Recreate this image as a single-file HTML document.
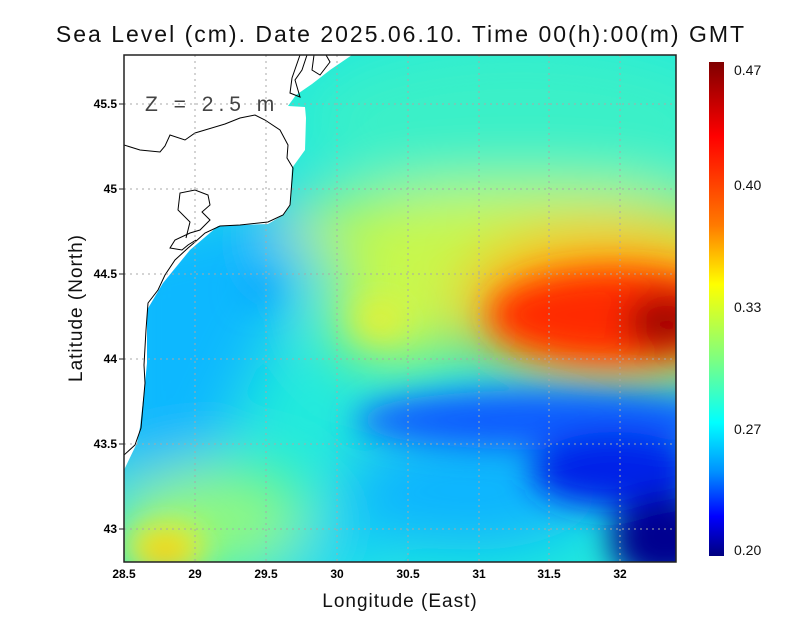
<!DOCTYPE html>
<html><head><meta charset="utf-8"><style>
html,body{margin:0;padding:0;background:#fff;}
svg{display:block;font-family:"Liberation Sans",sans-serif;}
</style></head><body>
<svg width="800" height="618" viewBox="0 0 800 618" xmlns="http://www.w3.org/2000/svg">
<defs>
<clipPath id="pc"><rect x="124" y="55" width="552" height="507"/></clipPath>
<filter id="b1" x="-50%" y="-50%" width="200%" height="200%"><feGaussianBlur stdDeviation="30"/></filter>
<filter id="b2" x="-50%" y="-50%" width="200%" height="200%"><feGaussianBlur stdDeviation="16"/></filter>
<linearGradient id="cb" x1="0" y1="0" x2="0" y2="1">
<stop offset="0" stop-color="#7f0000"/>
<stop offset="0.15" stop-color="#ff0000"/>
<stop offset="0.33" stop-color="#ff7a00"/>
<stop offset="0.45" stop-color="#ffff00"/>
<stop offset="0.6" stop-color="#7fff7f"/>
<stop offset="0.73" stop-color="#00ffff"/>
<stop offset="0.83" stop-color="#0090ff"/>
<stop offset="0.92" stop-color="#0000ff"/>
<stop offset="1" stop-color="#00007f"/>
</linearGradient>
</defs>
<text x="401" y="42" text-anchor="middle" font-size="23" letter-spacing="2" fill="#111">Sea Level (cm). Date 2025.06.10. Time 00(h):00(m) GMT</text>
<g clip-path="url(#pc)">
<rect x="124" y="55" width="552" height="507" fill="#22eadc"/>
<g filter="url(#b1)">
<path d="M100,240 L300,190 L330,240 L270,340 L210,470 L100,540 Z" fill="#10b8ff"/>
<ellipse cx="520" cy="120" rx="220" ry="80" fill="#3af0c8"/>
<ellipse cx="520" cy="230" rx="240" ry="45" fill="#c8f848"/>
<ellipse cx="400" cy="310" rx="75" ry="55" fill="#c8f850"/>
<ellipse cx="610" cy="305" rx="150" ry="78" fill="#ffb000"/>
<ellipse cx="470" cy="490" rx="130" ry="60" fill="#10b4ff"/>
<ellipse cx="300" cy="550" rx="90" ry="30" fill="#18d0f8"/>
<ellipse cx="210" cy="520" rx="100" ry="55" fill="#90f880"/>
</g>
<g filter="url(#b2)">
<ellipse cx="615" cy="315" rx="125" ry="45" fill="#ff2a00"/>
<ellipse cx="665" cy="322" rx="40" ry="28" fill="#a00000"/>
<ellipse cx="545" cy="420" rx="190" ry="30" fill="#0a5cff"/>
<ellipse cx="615" cy="470" rx="85" ry="38" fill="#0024e8"/>
<ellipse cx="665" cy="540" rx="55" ry="45" fill="#000090"/>
<ellipse cx="165" cy="548" rx="40" ry="25" fill="#f8f020"/>
<ellipse cx="165" cy="553" rx="20" ry="12" fill="#f8b000"/>
<ellipse cx="380" cy="320" rx="25" ry="18" fill="#e8f030"/>
<ellipse cx="258" cy="290" rx="15" ry="12" fill="#0a9cff"/>
</g>
<path d="M124,55 L352,55 L330,70 L312,84 L296,95 L288,106 L305,107 L306,118 L305,150 L292,168 L290,205 L283,215 L268,224 L218,226 L190,250 L163,283 L147,310 L147,363 L145,383 L140,427 L137,443 L124,470 Z" fill="#fff"/>
<g fill="none" stroke="#000" stroke-width="1">
<path d="M124,145 L140,150 L160,152 L165,146 L170,135 L185,140 L195,133 L225,124 L240,118 L255,115 L265,120 L280,130 L288,145 L287,158 L293,168 L290,205 L283,215 L268,222 L240,225 L220,226 L205,233 L195,242 L188,248 L175,260 L165,275 L158,290 L148,303 L146,330 L144,365 L145,383 L141,428 L135,445 L124,455"/>
<path d="M186,238 L190,222 L178,210 L180,193 L195,190 L208,195 L210,205 L202,212 L210,220 L200,230 L190,233 L175,240 L170,248 L182,250 L188,245 L196,240"/>
<path d="M300,55 L292,78 L290,93 L300,97 L295,80 L302,70 L307,55"/>
<path d="M314,55 L312,70 L320,75 L330,62 L326,55"/>
</g>
</g>
<g stroke="#a8a8a8" stroke-width="1" stroke-dasharray="2,4">
<line x1="195" y1="55" x2="195" y2="562"/><line x1="266" y1="55" x2="266" y2="562"/>
<line x1="337" y1="55" x2="337" y2="562"/><line x1="408" y1="55" x2="408" y2="562"/>
<line x1="479" y1="55" x2="479" y2="562"/><line x1="549" y1="55" x2="549" y2="562"/>
<line x1="620" y1="55" x2="620" y2="562"/>
<line x1="124" y1="104" x2="676" y2="104"/><line x1="124" y1="189" x2="676" y2="189"/>
<line x1="124" y1="274" x2="676" y2="274"/><line x1="124" y1="359" x2="676" y2="359"/>
<line x1="124" y1="444" x2="676" y2="444"/><line x1="124" y1="529" x2="676" y2="529"/>
</g>
<rect x="124" y="55" width="552" height="507" fill="none" stroke="#222" stroke-width="1.5"/>
<text x="145" y="111" font-size="21" letter-spacing="5" fill="#444">Z = 2.5 m</text>
<g stroke="#222" stroke-width="1">
<line x1="119" y1="104" x2="124" y2="104"/><line x1="119" y1="189" x2="124" y2="189"/>
<line x1="119" y1="274" x2="124" y2="274"/><line x1="119" y1="359" x2="124" y2="359"/>
<line x1="119" y1="444" x2="124" y2="444"/><line x1="119" y1="529" x2="124" y2="529"/>
</g>
<g font-size="12" font-weight="bold" fill="#000" text-anchor="end">
<text x="117" y="108">45.5</text><text x="117" y="193">45</text><text x="117" y="278">44.5</text>
<text x="117" y="363">44</text><text x="117" y="448">43.5</text><text x="117" y="533">43</text>
</g>
<g font-size="12" font-weight="bold" fill="#000" text-anchor="middle">
<text x="124" y="578">28.5</text><text x="195" y="578">29</text><text x="266" y="578">29.5</text>
<text x="337" y="578">30</text><text x="408" y="578">30.5</text><text x="479" y="578">31</text>
<text x="549" y="578">31.5</text><text x="620" y="578">32</text>
</g>
<text x="400" y="607" text-anchor="middle" font-size="19" letter-spacing="1" fill="#111">Longitude (East)</text>
<text transform="translate(82,308) rotate(-90)" text-anchor="middle" font-size="19" letter-spacing="1" fill="#111">Latitude (North)</text>
<rect x="709" y="62" width="15" height="494" fill="url(#cb)"/>
<g font-size="14" fill="#111">
<text x="734" y="75">0.47</text><text x="734" y="190">0.40</text><text x="734" y="312">0.33</text>
<text x="734" y="434">0.27</text><text x="734" y="555">0.20</text>
</g>
</svg>
</body></html>
